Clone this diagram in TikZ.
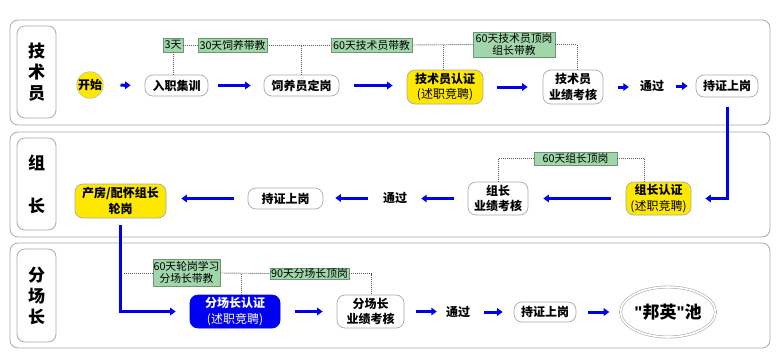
\documentclass[tikz,border=0pt]{standalone}
\usepackage{fontspec}
\setmainfont{Noto Sans CJK SC}
\newfontfamily\latinf{Liberation Sans}
\usetikzlibrary{arrows.meta,shapes.geometric,calc}
\definecolor{ylw}{RGB}{255,232,0}
\definecolor{grn}{RGB}{160,214,170}
\definecolor{grnb}{RGB}{110,150,115}
\definecolor{bl}{RGB}{0,0,240}
\definecolor{bx}{RGB}{170,170,170}
\newcommand{\qmk}{{\latinf\bfseries\char"0022}}
\begin{document}
\begin{tikzpicture}[x=1pt,y=-1pt,
  lanebox/.style={draw=bx,line width=0.8pt,rounded corners=8pt},
  lanelab/.style={draw=bx,line width=0.8pt,rounded corners=8pt,minimum width=39pt,align=center,font=\fontsize{17}{21}\selectfont\bfseries,inner sep=0pt},
  proc/.style={draw=bx,line width=0.7pt,rounded corners=8pt,fill=white,align=center,font=\fontsize{12}{15.5}\selectfont\bfseries,inner sep=1pt},
  yproc/.style={proc,fill=ylw},
  txt/.style={font=\fontsize{12}{15}\selectfont\bfseries,inner sep=0pt},
  gl/.style={draw=grnb,line width=0.6pt,fill=grn,align=center,font=\fontsize{10.8}{12}\selectfont,inner sep=0.5pt},
  dotl/.style={draw=gray!70!black,line width=0.9pt,dash pattern=on 1pt off 1pt},
  barrow/.style={draw=bl,line width=3pt,-{Triangle[length=5.5pt,width=7.5pt]}},
]
\useasboundingbox (0,0) rectangle (778,362);
% lanes
\draw[lanebox] (10,20) rectangle (770,125);
\draw[lanebox] (10,132) rectangle (770,237);
\draw[lanebox] (10,243) rectangle (770,348);
\node[lanelab,minimum height=92pt] (L1) at (36.5,72) {技\\术\\员};
\node[lanelab,minimum height=92pt] (L2) at (36.5,184) {组\\[22pt]长};
\node[lanelab,minimum height=93pt] (L3) at (36.5,295.5) {分\\场\\长};
% lane 1 nodes
\node[circle,draw=bx,fill=ylw,minimum size=26pt,inner sep=0pt,font=\fontsize{12}{14}\selectfont\bfseries] (start) at (90,85) {开始};
\node[proc,minimum width=63pt,minimum height=21pt] (s1) at (176.5,85.5) {入职集训};
\node[proc,minimum width=75pt,minimum height=21pt] (s2) at (301.5,85.5) {饲养员定岗};
\node[yproc,minimum width=76pt,minimum height=34pt] (s3) at (445,87) {技术员认证\\{\mdseries (述职竞聘)}};
\node[proc,minimum width=60pt,minimum height=34pt] (s4) at (573,87) {技术员\\业绩考核};
\node[txt] (t1) at (652,86) {通过};
\node[proc,minimum width=62pt,minimum height=22pt] (s5) at (727,86) {持证上岗};
% lane 1 green labels
\node[gl,minimum width=20pt,minimum height=14pt] (g1) at (173,45) {3天};
\node[gl,minimum width=69pt,minimum height=14pt] (g2) at (232.5,45) {30天饲养带教};
\node[gl,minimum width=81pt,minimum height=14pt] (g3) at (371.5,45) {60天技术员带教};
\node[gl,minimum width=82pt,minimum height=25pt] (g4) at (514,44.5) {60天技术员顶岗\\组长带教};
% lane 2 nodes
\node[yproc,minimum width=65pt,minimum height=33pt] (s8) at (658.5,198.5) {组长认证\\{\mdseries (述职竞聘)}};
\node[proc,minimum width=60pt,minimum height=33pt] (s9) at (498,198.5) {组长\\业绩考核};
\node[txt] (t2) at (395,198) {通过};
\node[proc,minimum width=75pt,minimum height=21pt] (s10) at (285.5,198.5) {持证上岗};
\node[yproc,minimum width=91pt,minimum height=34pt] (s7) at (120.5,201) {产房/配怀组长\\轮岗};
\node[gl,minimum width=83pt,minimum height=13pt] (g5) at (575.5,158.5) {60天组长顶岗};
% lane 3 nodes
\node[proc,fill=bl,draw=bl,text=white,minimum width=90pt,minimum height=33pt] (s11) at (235,311.5) {分场长认证\\{\mdseries (述职竞聘)}};
\node[proc,minimum width=67pt,minimum height=33pt] (s12) at (370.5,311.5) {分场长\\业绩考核};
\node[txt] (t3) at (458,312) {通过};
\node[proc,minimum width=62pt,minimum height=20pt] (s13) at (545,312) {持证上岗};
\node[ellipse,draw=bx,double,double distance=1.6pt,line width=0.6pt,minimum width=90pt,minimum height=50pt,inner sep=0pt,font=\fontsize{17}{20}\selectfont\bfseries] (pool) at (668,312) {\qmk 邦英\qmk 池};
\node[gl,minimum width=67pt,minimum height=27pt] (g6) at (186.5,272.5) {60天轮岗学习\\分场长带教};
\node[gl,minimum width=79pt,minimum height=11pt] (g7) at (309.5,273.5) {90天分场长顶岗};
\coordinate (d0) at (124,273);
% dotted connectors
\draw[dotl] (g1.south) -- (g1.south |- s1.north);
\draw[dotl] (g1.east) -- (g2.west);
\draw[dotl] (g2.east) -- (g3.west);
\draw[dotl] (s2.north) -- (s2.north |- g2.east);
\draw[dotl] (g3.east) -- (g4.west);
\draw[dotl] ([xshift=-2pt]s3.north) -- ([xshift=-2pt]s3.north |- g3.east);
\draw[dotl] (g4.east) -| ([xshift=4pt]s4.north);
\draw[dotl] (s9.north) |- (g5.west);
\draw[dotl] (g5.east) -| ([xshift=-14pt]s8.north);
\draw[dotl] (d0) -- (g6.west |- d0);
\draw[dotl] (g6.east |- d0) -- (g7.west);
\draw[dotl] ([xshift=6pt]s11.north) -- ([xshift=6pt]s11.north |- g7.west);
\draw[dotl] (g7.east) -| ([xshift=1pt]s12.north);
% blue arrows
\draw[barrow,shorten <=17pt,shorten >=14pt] (start.east) -- (s1.west);
\draw[barrow,shorten <=10pt,shorten >=13pt] (s1.east) -- (s2.west);
\draw[barrow,shorten <=15pt,shorten >=14pt] (s2.east) -- (s2.east -| s3.west);
\draw[barrow,shorten <=14pt,shorten >=15pt] (s3.east) -- (s4.west);
\draw[barrow,shorten <=15pt,shorten >=11pt] (s4.east) -- (s4.east -| t1.west);
\draw[barrow,shorten <=12pt,shorten >=8pt] (t1.east) -- (t1.east -| s5.west);
\draw[barrow] ([yshift=-10pt]s5.south) |- ([xshift=14pt]s8.east);
\draw[barrow,shorten <=15pt,shorten >=15pt] (s8.west) -- (s9.east);
\draw[barrow,shorten <=14pt,shorten >=14pt] (s9.west) -- (s9.west -| t2.east);
\draw[barrow,shorten <=15pt,shorten >=12pt] (t2.west) -- (t2.west -| s10.east);
\draw[barrow,shorten <=14pt,shorten >=15pt] (s10.west) -- (s10.west -| s7.east);
\draw[barrow] ([yshift=-7pt]s7.south) |- ([xshift=-14pt]s11.west);
\draw[barrow,shorten <=15pt,shorten >=14pt] (s11.east) -- (s12.west);
\draw[barrow,shorten <=12pt,shorten >=9pt] (s12.east) -- (s12.east -| t3.west);
\draw[barrow,shorten <=14pt,shorten >=11pt] (t3.east) -- (t3.east -| s13.west);
\draw[barrow,shorten <=12pt,shorten >=11pt] (s13.east) -- (pool.west);
\end{tikzpicture}
\end{document}
